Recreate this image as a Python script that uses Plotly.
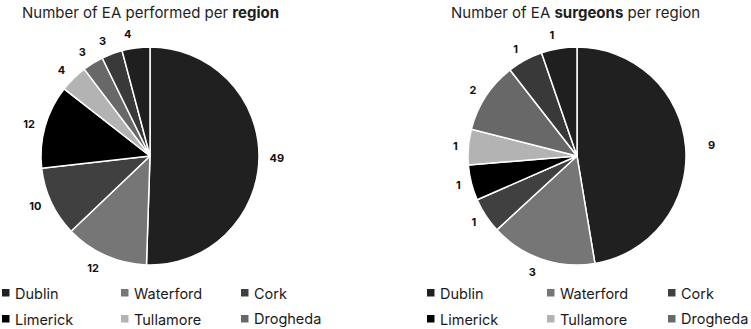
import plotly.graph_objects as go

# ---- data ----
regions = ["Dublin", "Waterford", "Cork", "Limerick", "Tullamore", "Drogheda", "Region 7", "Region 8"]
ea_performed = [49, 12, 10, 12, 4, 3, 3, 4]
ea_surgeons = [9, 3, 1, 1, 1, 2, 1, 1]
slice_colors = ["#202020", "#767676", "#404040", "#000000", "#b3b3b3", "#686868", "#393939", "#1f1f1f"]
legend_regions = regions[:6]

W, H = 751, 329
FONT = "Inter"

fig = go.Figure()


def px_x(x):
    return x / W


def px_y(y):
    return 1 - y / H


def circle_domain(cx, cy, r):
    return dict(x=[px_x(cx - r), px_x(cx + r)], y=[px_y(cy + r), px_y(cy - r)])


pie_base = dict(sort=False, direction="clockwise", rotation=0, showlegend=False)

centers = [(150, 156), (577, 156)]
series = [ea_performed, ea_surgeons]
R = 109
label_radii = [[116] * 8, [128] + [116] * 7]

for (cx, cy), vals, radii in zip(centers, series, label_radii):
    # visible pie
    fig.add_trace(go.Pie(labels=regions, values=vals, domain=circle_domain(cx, cy, R),
                         textinfo="none", hoverinfo="label+value",
                         marker=dict(colors=slice_colors, line=dict(color="white", width=1.5)),
                         **pie_base))
    # one transparent pie per slice carrying that slice's outside value label
    for i in range(len(vals)):
        txt = [str(v) if j == i else "" for j, v in enumerate(vals)]
        fig.add_trace(go.Pie(labels=regions, values=vals, domain=circle_domain(cx, cy, radii[i]),
                             text=txt, textinfo="text", textposition="outside", hoverinfo="skip",
                             textfont=dict(family=FONT, size=11, color="#111111", weight="bold"),
                             marker=dict(colors=["rgba(0,0,0,0)"] * len(vals), line=dict(width=0)),
                             **pie_base))

annotations = [
    dict(text="Number of EA performed per <b>region</b>", x=px_x(20), y=px_y(13),
         xref="paper", yref="paper", xanchor="left", yanchor="middle", showarrow=False,
         font=dict(family=FONT, size=15, color="#1e1e1e")),
    dict(text="Number of EA <b>surgeons</b> per region", x=px_x(449), y=px_y(13),
         xref="paper", yref="paper", xanchor="left", yanchor="middle", showarrow=False,
         font=dict(family=FONT, size=15, color="#1e1e1e")),
]
shapes = []

col_left = [[2, 121, 241], [427, 547, 668]]
row_y = [293, 319]
for block in col_left:
    for i, name in enumerate(legend_regions):
        r, c = divmod(i, 3)
        x0 = block[c]
        y = row_y[r]
        shapes.append(dict(type="rect", xref="paper", yref="paper",
                           x0=px_x(x0), x1=px_x(x0 + 7.5), y0=px_y(y + 3.5), y1=px_y(y - 4),
                           fillcolor=slice_colors[i], line=dict(width=0)))
        annotations.append(dict(text=name, x=px_x(x0 + 11), y=px_y(y), xref="paper", yref="paper",
                                xanchor="left", yanchor="middle", showarrow=False,
                                font=dict(family=FONT, size=14.5, color="#1a1a1a")))

fig.update_layout(
    width=W, height=H,
    margin=dict(l=0, r=0, t=0, b=0),
    paper_bgcolor="white", plot_bgcolor="white",
    annotations=annotations, shapes=shapes,
)

fig.write_html("out.html")
